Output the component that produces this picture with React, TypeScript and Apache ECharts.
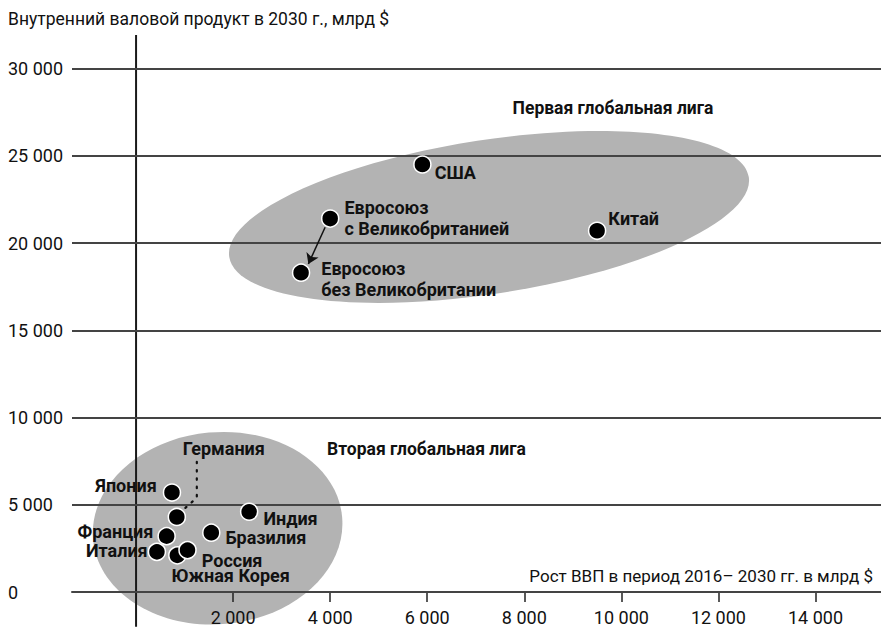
import React, { useEffect, useRef } from "react";
import * as echarts from "echarts";

// ---- data ----
const countries = [
  "США",
  "Китай",
  "Евросоюз\nс Великобританией",
  "Евросоюз\nбез Великобритании",
  "Япония",
  "Германия",
  "Франция",
  "Италия",
  "Южная Корея",
  "Россия",
  "Бразилия",
  "Индия",
];
// рост ВВП 2016–2030, млрд $
const gdpGrowth = [5900, 9500, 4000, 3400, 740, 840, 630, 430, 850, 1060, 1550, 2330];
// ВВП 2030, млрд $
const gdp2030 = [24500, 20700, 21400, 18300, 5700, 4300, 3200, 2300, 2100, 2400, 3400, 4600];

const yTicks = [0, 5000, 10000, 15000, 20000, 25000, 30000];
const xTicks = [2000, 4000, 6000, 8000, 10000, 12000, 14000];

const yTitle = "Внутренний валовой продукт в 2030 г., млрд $";
const xTitle = "Рост ВВП в период 2016– 2030 гг. в млрд $";
const leagueNames = ["Первая глобальная лига", "Вторая глобальная лига"];

// league ellipses: [tip1 x, tip1 y, tip2 x, tip2 y] in data units
const leagueEllipseTips = [
  [1918, 19204, 12628, 23785],
  [-884, 2995, 4245, 4313],
];
// vertical axis line (data units), extends below zero
const yAxisLine = [
  [0, 31920],
  [0, -1990],
];
// Germany leader (dotted) line, data units
const germanyLeader = [
  [1252, 7463],
  [1252, 5400],
  [990, 4754],
];
// EU arrow (from "with UK" towards "without UK"), data units
const euArrow = [
  [3896, 20903],
  [3551, 18800],
];

// ---- styles ----
const FONT = "Roboto, 'Noto Sans', sans-serif";
const TEXT = "#111111";
const GRID = "#444444";
const ELLIPSE_MINOR = [77, 96];

const labelPlacement: Record<string, any> = {
  "США": { position: "right", offset: [3, 8] },
  "Китай": { position: "right", offset: [2, -12] },
  "Евросоюз\nс Великобританией": { position: "right", offset: [5, -1] },
  "Евросоюз\nбез Великобритании": { position: "right", offset: [11, 6] },
  "Япония": { position: "left", offset: [-6, -7] },
  "Германия": { position: "top", offset: [47, -49] },
  "Франция": { position: "left", offset: [-4, -5] },
  "Италия": { position: "left", offset: [0, -1] },
  "Южная Корея": { position: "right", offset: [-15, 20] },
  "Россия": { position: "right", offset: [5, 10] },
  "Бразилия": { position: "right", offset: [5, 5] },
  "Индия": { position: "right", offset: [5, 7] },
};

const fmt = (v: number) => String(v).replace(/\B(?=(\d{3})+(?!\d))/g, " ");

export default function App() {
  const ref = useRef<HTMLDivElement>(null);

  useEffect(() => {
    if (!ref.current) return;
    const chart = echarts.init(ref.current, undefined, { renderer: "svg" });

    const points = countries.map((name, i) => ({
      name,
      value: [gdpGrowth[i], gdp2030[i]],
      label: { ...labelPlacement[name] },
    }));

    const option: any = {
      animation: false,
      backgroundColor: "#ffffff",
      textStyle: { fontFamily: FONT },
      grid: { left: 72, right: 0, top: 35, bottom: 42, outerBoundsMode: "none", containLabel: false },
      xAxis: {
        type: "value",
        min: -1320,
        max: 15350,
        z: 3,
        position: "bottom",
        axisLine: { show: true, onZero: false, lineStyle: { color: GRID, width: 2 } },
        axisTick: {
          show: true,
          customValues: xTicks,
          length: 10,
          lineStyle: { color: "#222", width: 1.5 },
        },
        axisLabel: {
          customValues: xTicks,
          margin: 16,
          fontSize: 18,
          fontFamily: FONT,
          color: TEXT,
          formatter: (v: number) => fmt(v),
        },
        splitLine: { show: false },
      },
      yAxis: {
        type: "value",
        min: 0,
        max: 31920,
        axisLine: { show: false },
        axisTick: { show: false },
        splitLine: { show: false },
        axisLabel: {
          customValues: yTicks,
          align: "left",
          margin: 64,
          fontSize: 18,
          fontFamily: FONT,
          color: TEXT,
          formatter: (v: number) => fmt(v),
        },
      },
      graphic: [
        {
          type: "text",
          x: 8,
          y: 19,
          style: { text: yTitle, font: `17.5px ${FONT}`, fill: TEXT, verticalAlign: "middle" },
        },
        {
          type: "text",
          x: 873,
          y: 576,
          style: {
            text: xTitle,
            font: `17px ${FONT}`,
            fill: TEXT,
            align: "right",
            verticalAlign: "middle",
          },
          z: 10,
        },
        {
          type: "text",
          x: 613,
          y: 108,
          style: {
            text: leagueNames[0],
            font: `bold 17.5px ${FONT}`,
            fill: TEXT,
            align: "center",
            verticalAlign: "middle",
          },
          z: 10,
        },
        {
          type: "text",
          x: 327,
          y: 449,
          style: {
            text: leagueNames[1],
            font: `bold 17.5px ${FONT}`,
            fill: TEXT,
            align: "left",
            verticalAlign: "middle",
          },
          z: 10,
        },
      ],
      series: [
        {
          type: "custom",
          z: 1,
          silent: true,
          clip: false,
          data: leagueEllipseTips.map((t, i) => [...t, ELLIPSE_MINOR[i]]),
          encode: { x: [0, 2], y: [1, 3] },
          renderItem: (params: any, api: any) => {
            const p1 = api.coord([api.value(0), api.value(1)]);
            const p2 = api.coord([api.value(2), api.value(3)]);
            const cx = (p1[0] + p2[0]) / 2;
            const cy = (p1[1] + p2[1]) / 2;
            const rx = Math.hypot(p2[0] - p1[0], p2[1] - p1[1]) / 2;
            const ang = Math.atan2(p2[1] - p1[1], p2[0] - p1[0]);
            return {
              type: "ellipse",
              x: cx,
              y: cy,
              rotation: -ang,
              shape: { cx: 0, cy: 0, rx, ry: api.value(4) },
              style: { fill: "#b3b3b3" },
            };
          },
        },
        {
          type: "scatter",
          z: 2,
          silent: true,
          data: [],
          markLine: {
            silent: true,
            symbol: "none",
            label: { show: false },
            animation: false,
            data: yTicks.map((v) => ({ yAxis: v, lineStyle: { color: GRID, width: 2, type: "solid" } })),
          },
        },
        {
          type: "line",
          z: 2,
          silent: true,
          clip: false,
          symbol: "none",
          data: yAxisLine,
          lineStyle: { color: "#1a1a1a", width: 2, type: "solid" },
        },
        {
          type: "line",
          z: 3,
          silent: true,
          symbol: "none",
          data: germanyLeader,
          lineStyle: { color: "#111", width: 2.2, type: [1.5, 6.8], cap: "round" },
        },
        {
          type: "scatter",
          z: 3,
          silent: true,
          data: [],
          markLine: {
            silent: true,
            symbol: ["none", "arrow"],
            symbolSize: 10,
            label: { show: false },
            animation: false,
            lineStyle: { color: "#111", width: 1.5, type: "solid" },
            data: [[{ coord: euArrow[0] }, { coord: euArrow[1] }]],
          },
        },
        {
          type: "scatter",
          z: 5,
          symbol: "circle",
          symbolSize: 17,
          itemStyle: { color: "#000", borderColor: "#fff", borderWidth: 1.5, opacity: 1 },
          label: {
            show: true,
            distance: 0,
            formatter: (p: any) => p.name,
            fontFamily: FONT,
            fontWeight: "bold",
            fontSize: 18,
            lineHeight: 21,
            color: TEXT,
            textBorderWidth: 0,
          },
          data: points,
        },
      ],
    };

    chart.setOption(option);
    return () => chart.dispose();
  }, []);

  return <div ref={ref} style={{ width: 881, height: 634, position: "absolute", left: 0, top: 0 }} />;
}
